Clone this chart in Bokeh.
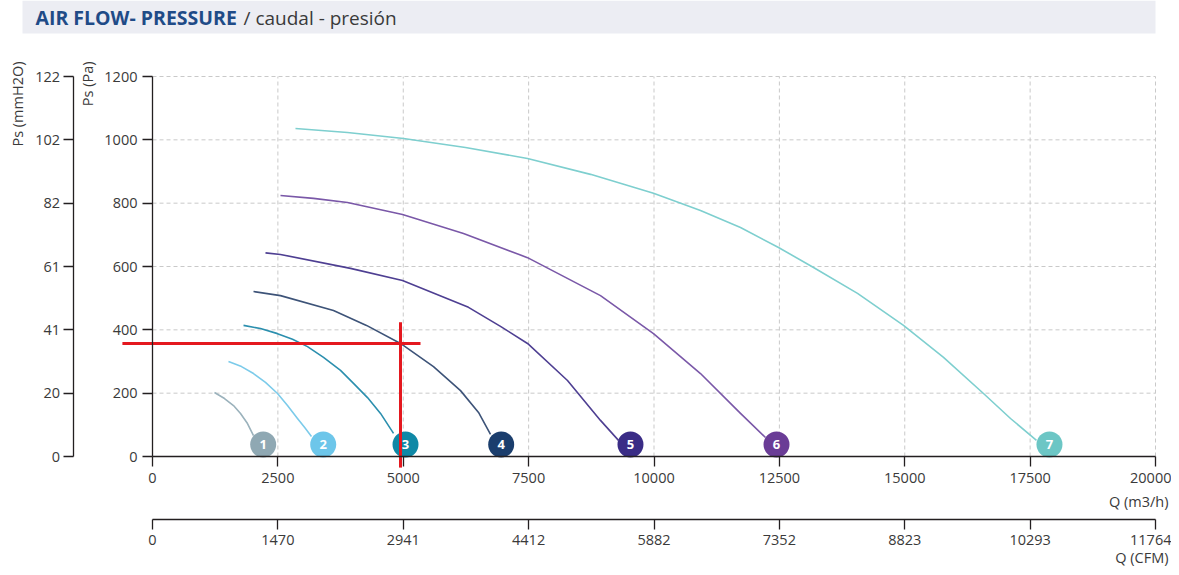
import math
from bokeh.plotting import figure
from bokeh.models import Range1d, LinearAxis, FixedTicker, Label, BoxAnnotation
from bokeh.core.properties import value
from bokeh.embed import file_html
from bokeh.resources import INLINE

# ---------------- data ----------------
q_ticks = [0, 2500, 5000, 7500, 10000, 12500, 15000, 17500, 20000]          # m3/h
cfm_labels = ["0", "1470", "2941", "4412", "5882", "7352", "8823", "10293", "11764"]
pa_ticks = [0, 200, 400, 600, 800, 1000, 1200]                               # Pa
mmh2o_labels = ["0", "20", "41", "61", "82", "102", "122"]

curve_names = ["1", "2", "3", "4", "5", "6", "7"]
q1 = [1236, 1436, 1615, 1755, 1894, 2014]
p1 = [202, 183, 161, 136, 104, 66]
q2 = [1515, 1775, 2014, 2253, 2493, 2692, 2891, 3031, 3170]
p2 = [300, 284, 262, 234, 199, 161, 120, 92, 63]
q3 = [1815, 2153, 2493, 2792, 3091, 3410, 3749, 4008, 4287, 4547, 4806]
p3 = [414, 404, 388, 370, 347, 313, 272, 231, 186, 136, 73]
q4 = [2014, 2552, 3609, 4267, 4945, 5603, 6142, 6501, 6740]
p4 = [521, 508, 461, 414, 357, 284, 208, 139, 70]
q5 = [2253, 2552, 3948, 4985, 6301, 6939, 7478, 8275, 8933, 9292]
p5 = [643, 638, 594, 556, 471, 411, 357, 240, 114, 51]
q6 = [2552, 3210, 3888, 4985, 6201, 7478, 8933, 9990, 10927, 11725, 12223]
p6 = [824, 815, 802, 764, 704, 628, 508, 388, 262, 136, 60]
q7 = [2851, 3888, 5005, 6241, 7478, 8734, 9990, 10927, 11725, 12483, 13181,
      14058, 14975, 15773, 16570, 17109, 17627]
p7 = [1036, 1023, 1004, 976, 941, 891, 831, 777, 723, 660, 597,
      515, 414, 313, 199, 120, 51]

marker_q = [2207, 3404, 5045, 6953, 9531, 12443, 17886]
marker_p = [38, 38, 38, 38, 38, 38, 38]

# selected duty point (red cross)
op_q = 4945
op_p = 357
hline_q = [-600, 5344]
vline_p = [-35, 424]

line_colors = ["#9bb2bc", "#7ccbea", "#2b8fae", "#3d5378", "#4e3f92", "#7a58a8", "#7ecfcf"]
marker_colors = ["#8fa8b3", "#6dc6ea", "#0f88a6", "#1b3e6d", "#3a2c86", "#6a3c96", "#6cc6c5"]

# ---------------- geometry (picture pixels) ----------------
W, H = 1171, 567
ORIGIN = 0
X0_PX, X1_PX = 152, 1155     # pixel of Q=0 and Q=20000
Y0_PX, Y1_PX = 456, 76       # pixel of P=0 and P=1200


def px_x(px):
    return (px - X0_PX) * 20000 / (X1_PX - X0_PX)


def px_y(py):
    return (Y0_PX - py) * 1200 / (Y0_PX - Y1_PX)


FONT = "Open Sans"
TXT = "#3a3a3a"

p = figure(width=W, height=H,
           x_range=Range1d(px_x(ORIGIN), px_x(ORIGIN + W)),
           y_range=Range1d(px_y(ORIGIN + H), px_y(ORIGIN)),
           x_axis_type=None, y_axis_type=None,
           toolbar_location=None, output_backend="svg",
           min_border=0, outline_line_color=None)

# title band
p.add_layout(BoxAnnotation(left=px_x(22), right=px_x(1155), top=px_y(0), bottom=px_y(33),
                           fill_color="#ecedf3", fill_alpha=1.0, line_color=None, level="underlay"))
p.add_layout(Label(x=px_x(35), y=px_y(17), text="AIR FLOW- PRESSURE", text_font=FONT,
                   text_font_style="bold", text_font_size="19.5px", text_color="#1f4b87",
                   text_baseline="middle"))
p.add_layout(Label(x=px_x(243), y=px_y(17), text="/ caudal - presión", text_font=FONT,
                   text_font_size="19px", text_color=TXT, text_baseline="middle"))

# grid
grid_x = q_ticks[1:]
grid_y = pa_ticks[1:]
p.segment(x0=grid_x, x1=grid_x, y0=[pa_ticks[0]] * len(grid_x), y1=[pa_ticks[-1]] * len(grid_x),
          line_color="#c9c9c9", line_width=1, line_dash="4 3")
p.segment(x0=[q_ticks[0]] * len(grid_y), x1=[q_ticks[-1]] * len(grid_y), y0=grid_y, y1=grid_y,
          line_color="#c9c9c9", line_width=1, line_dash="4 3")


def make_axis(loc, ticks, bounds, overrides=None, standoff=5):
    ax = LinearAxis(fixed_location=loc, bounds=bounds,
                    ticker=FixedTicker(ticks=ticks, minor_ticks=[]),
                    major_tick_out=10, major_tick_in=0, minor_tick_out=0, minor_tick_in=0,
                    axis_line_color="#231f20", axis_line_width=1.3,
                    major_tick_line_color="#231f20", major_tick_line_width=1.3,
                    major_label_text_font=FONT, major_label_text_font_size="14.5px",
                    major_label_text_color=TXT, major_label_standoff=standoff)
    if overrides:
        ax.major_label_overrides = overrides
    return ax


ax_q = make_axis(0, q_ticks, (q_ticks[0], q_ticks[-1]), standoff=6)
ax_cfm = make_axis(px_y(519), q_ticks, (q_ticks[0], q_ticks[-1]),
                   overrides=dict(zip(q_ticks, cfm_labels)), standoff=5)
ax_pa = make_axis(0, pa_ticks, (pa_ticks[0], pa_ticks[-1]), standoff=5)
ax_mm = make_axis(px_x(72.5), pa_ticks, (pa_ticks[0], pa_ticks[-1]),
                  overrides=dict(zip(pa_ticks, mmh2o_labels)), standoff=3)
p.add_layout(ax_q, "below")
p.add_layout(ax_cfm, "below")
p.add_layout(ax_pa, "left")
p.add_layout(ax_mm, "left")

# axis titles
p.add_layout(Label(x=px_x(17), y=px_y(61), text="Ps (mmH2O)", angle=math.pi / 2,
                   text_align="right", text_baseline="middle", text_font=FONT,
                   text_font_size="14.5px", text_color=TXT))
p.add_layout(Label(x=px_x(87), y=px_y(61), text="Ps (Pa)", angle=math.pi / 2,
                   text_align="right", text_baseline="middle", text_font=FONT,
                   text_font_size="14.5px", text_color=TXT))
p.add_layout(Label(x=px_x(1168), y=px_y(501), text="Q (m3/h)", text_align="right",
                   text_baseline="middle", text_font=FONT, text_font_size="14.5px", text_color=TXT))
p.add_layout(Label(x=px_x(1168), y=px_y(557), text="Q (CFM)", text_align="right",
                   text_baseline="middle", text_font=FONT, text_font_size="14.5px", text_color=TXT))

# curves
curves = [(q1, p1), (q2, p2), (q3, p3), (q4, p4), (q5, p5), (q6, p6), (q7, p7)]
for (qs, ps), col in zip(curves, line_colors):
    p.line(qs, ps, line_color=col, line_width=1.6, line_join="round")

# curve markers
p.scatter(marker_q, marker_p, size=26, fill_color=marker_colors, line_color=None)
p.text(marker_q, marker_p, text=curve_names, text_color="white", text_font=value(FONT),
       text_font_style="bold", text_font_size="13px", text_align="center", text_baseline="middle")

# duty point cross
p.line(hline_q, [op_p, op_p], line_color="#e4181f", line_width=3)
p.line([op_q, op_q], vline_p, line_color="#e4181f", line_width=3)

open("out.html", "w").write(file_html(p, INLINE))
